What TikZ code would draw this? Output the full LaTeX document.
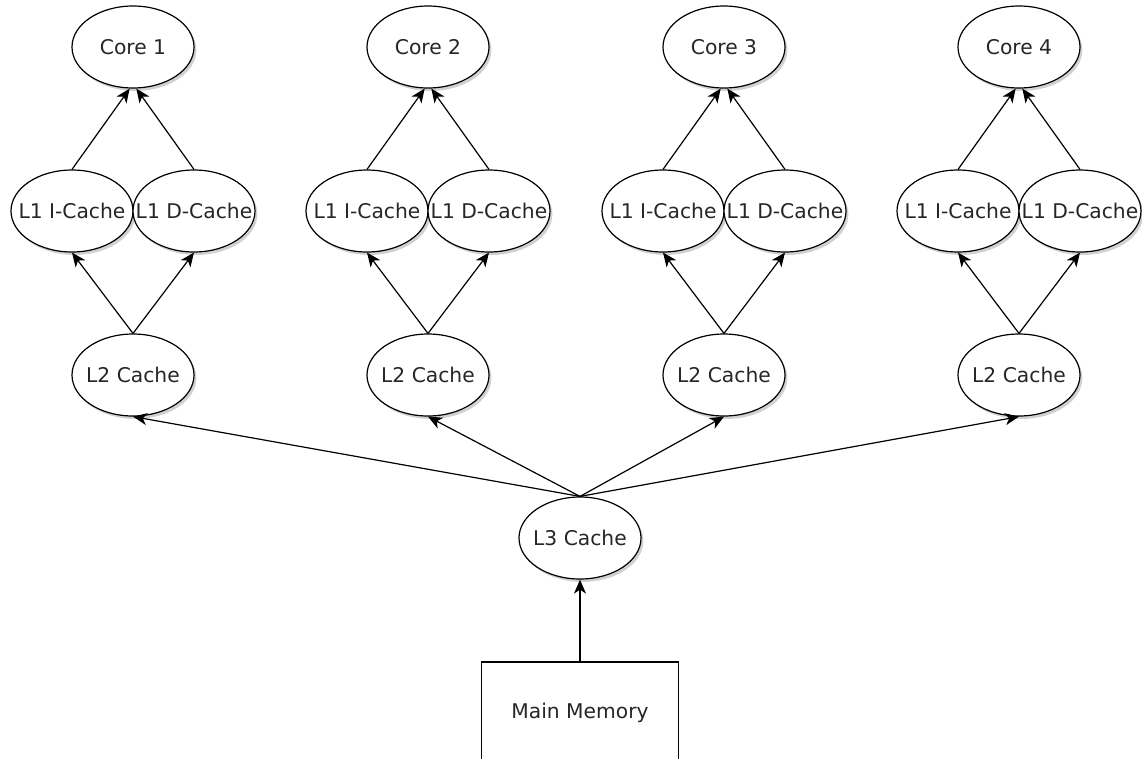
\documentclass[tikz,border=0pt]{standalone}
\usepackage{fontspec}
\setmainfont{DejaVu Sans}
\usepackage{tikz}
\usetikzlibrary{shapes,arrows.meta,shadows}

\tikzset{
	cache/.style={draw,
		ellipse,
		fill=white,
		minimum width=91.5pt,
		minimum height=61.5pt,
		inner sep=0pt,
		drop shadow={shadow xshift=1.8pt,shadow yshift=-2.2pt,opacity=0.3,fill=black!60}
	},
	memory/.style={draw,
		fill=white,
		minimum width=147.75pt,
		minimum height=76.5pt,
		inner sep=0pt
	},
	link/.style={-{Stealth[length=10.5pt,width=9pt,inset=3pt]}}
}

\begin{document}
\begin{tikzpicture}[x=0.75pt,y=-0.75pt,
		font=\fontsize{15.2}{18}\selectfont,
		text=black!85,line width=0.9pt]
		\useasboundingbox (0,0) rectangle (1142,758);

		% cores
		\node[cache] (core1) at (133,47) {\makebox[0pt]{Core 1}};
		\node[cache] (core2) at (428,47) {\makebox[0pt]{Core 2}};
		\node[cache] (core3) at (724,47) {\makebox[0pt]{Core 3}};
		\node[cache] (core4) at (1019,47) {\makebox[0pt]{Core 4}};

		% level 1
		\node[cache] (icache1) at (72,211) {\makebox[0pt]{L1 I-Cache}};
		\node[cache] (dcache1) at (194,211) {\makebox[0pt]{L1 D-Cache}};
		\node[cache] (icache2) at (367,211) {\makebox[0pt]{L1 I-Cache}};
		\node[cache] (dcache2) at (489,211) {\makebox[0pt]{L1 D-Cache}};
		\node[cache] (icache3) at (663,211) {\makebox[0pt]{L1 I-Cache}};
		\node[cache] (dcache3) at (785,211) {\makebox[0pt]{L1 D-Cache}};
		\node[cache] (icache4) at (958,211) {\makebox[0pt]{L1 I-Cache}};
		\node[cache] (dcache4) at (1080,211) {\makebox[0pt]{L1 D-Cache}};

		% level 2
		\node[cache] (ltwo1) at (133,375) {\makebox[0pt]{L2 Cache}};
		\node[cache] (ltwo2) at (428,375) {\makebox[0pt]{L2 Cache}};
		\node[cache] (ltwo3) at (724,375) {\makebox[0pt]{L2 Cache}};
		\node[cache] (ltwo4) at (1019,375) {\makebox[0pt]{L2 Cache}};

		% level 3 and memory
		\node[cache] (lthree) at (580,538) {\makebox[0pt]{L3 Cache}};
		\node[memory] (mem) at (580,713) {Main Memory};

		\draw[link] (mem.north) -- (lthree.south);
		\draw[link] (lthree.north) -- (ltwo1.south);
		\draw[link] (lthree.north) -- (ltwo2.south);
		\draw[link] (lthree.north) -- (ltwo3.south);
		\draw[link] (lthree.north) -- (ltwo4.south);

		\draw[link] (ltwo1.north) -- (icache1.south);
		\draw[link] (ltwo1.north) -- (dcache1.south);
		\draw[link] (ltwo2.north) -- (icache2.south);
		\draw[link] (ltwo2.north) -- (dcache2.south);
		\draw[link] (ltwo3.north) -- (icache3.south);
		\draw[link] (ltwo3.north) -- (dcache3.south);
		\draw[link] (ltwo4.north) -- (icache4.south);
		\draw[link] (ltwo4.north) -- (dcache4.south);

		\draw[link] (icache1.north) -- ([xshift=-2.5pt]core1.south);
		\draw[link] (dcache1.north) -- ([xshift=2.5pt]core1.south);
		\draw[link] (icache2.north) -- ([xshift=-2.5pt]core2.south);
		\draw[link] (dcache2.north) -- ([xshift=2.5pt]core2.south);
		\draw[link] (icache3.north) -- ([xshift=-2.5pt]core3.south);
		\draw[link] (dcache3.north) -- ([xshift=2.5pt]core3.south);
		\draw[link] (icache4.north) -- ([xshift=-2.5pt]core4.south);
		\draw[link] (dcache4.north) -- ([xshift=2.5pt]core4.south);

	\end{tikzpicture}
\end{document}
